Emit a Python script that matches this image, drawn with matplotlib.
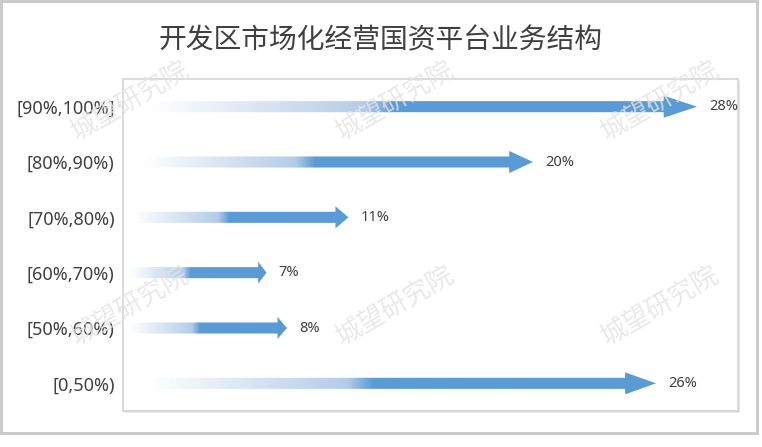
import numpy as np
import matplotlib
matplotlib.use('Agg')
import matplotlib.pyplot as plt
from matplotlib.path import Path
from matplotlib.patches import PathPatch, Rectangle
from matplotlib.colors import to_rgba

plt.rcParams['font.family'] = ['Noto Sans CJK SC', 'DejaVu Sans']

# --- data ---
categories = ['[0,50%)', '[50%,60%)', '[60%,70%)', '[70%,80%)', '[80%,90%)', '[90%,100%]']
shares = [26, 8, 7, 11, 20, 28]
share_labels = ['26%', '8%', '7%', '11%', '20%', '28%']
title = '开发区市场化经营国资平台业务结构'
watermark = '城望研究院'

W, H = 762, 447
fig = plt.figure(figsize=(W / 100, H / 100), dpi=100)
fig.patch.set_facecolor('white')

# outer frame
fig.patches.append(Rectangle((1 / W, 14 / H), 756 / W, 432 / H, transform=fig.transFigure,
                             fill=False, edgecolor='#c8c8c8', lw=2, zorder=-2))
# plot-area shadow
fig.patches.append(Rectangle((125 / W, 34 / H), 615 / W, 332 / H, transform=fig.transFigure,
                             facecolor='#e8e8e8', edgecolor='none', zorder=-1))

ax = fig.add_axes([123 / W, 36 / H, 615 / W, 332 / H], zorder=1)
ax.set_facecolor('white')
for s in ax.spines.values():
    s.set_color('#d4d4d4')
    s.set_linewidth(1.2)

blue = to_rgba('#5b9bd5')
light = to_rgba('#b4cce8')
white = (1, 1, 1, 1)


def gradient_row(n=400):
    # white -> light blue -> solid blue, as in the office gradient fill
    t = np.linspace(0, 1, n)
    out = np.zeros((1, n, 4))
    for i, v in enumerate(t):
        if v < 0.05:
            c = white
        elif v < 0.42:
            f = (v - 0.05) / 0.37
            c = [white[k] * (1 - f) + light[k] * f for k in range(4)]
        elif v < 0.47:
            f = (v - 0.42) / 0.05
            c = [light[k] * (1 - f) + blue[k] * f for k in range(4)]
        else:
            c = blue
        out[0, i] = c
    return out


grad = gradient_row()
shaft = 0.10
head = 0.20
for i, (v, lab) in enumerate(zip(shares, share_labels)):
    hl = 0.058 * v
    verts = [(0, i - shaft), (v - hl, i - shaft), (v - hl, i - head), (v, i),
             (v - hl, i + head), (v - hl, i + shaft), (0, i + shaft), (0, i - shaft)]
    codes = [Path.MOVETO] + [Path.LINETO] * 6 + [Path.CLOSEPOLY]
    patch = PathPatch(Path(verts, codes), facecolor='none', edgecolor='none')
    ax.add_patch(patch)
    im = ax.imshow(grad, extent=[0, v, i - head, i + head], aspect='auto',
                   interpolation='bilinear', zorder=2)
    im.set_clip_path(patch)
    ax.annotate(lab, (v, i), xytext=(8.5, 0), textcoords='offset points',
                ha='left', va='center', fontsize=10.5, color='#404040',
                family=['Noto Sans', 'DejaVu Sans'])

ax.set_xlim(0, 30)
ax.set_ylim(-0.5, 5.5)
ax.set_xticks([])
ax.set_yticks(range(len(categories)))
ax.set_yticklabels(categories, fontsize=13, color='#404040', family=['Noto Sans', 'DejaVu Sans'])
ax.tick_params(axis='y', length=0, pad=6)

fig.text(381 / W, 1 - 40 / H, title, ha='center', va='center', fontsize=20, color='#404040')

for x in (130, 395, 660):
    for y in (100, 305):
        fig.text(x / W, 1 - y / H, watermark, ha='center', va='center', rotation=30,
                 fontsize=19, color='#e4e4e4', alpha=0.8, zorder=10)

fig.savefig('out.png', dpi=100)
